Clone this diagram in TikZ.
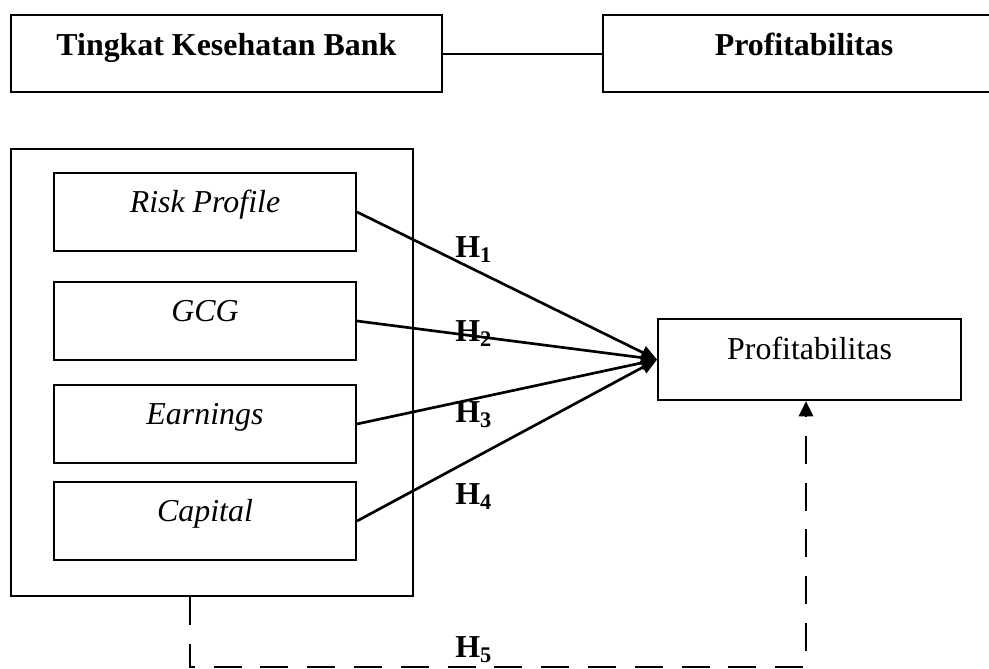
\documentclass[tikz,border=0pt]{standalone}
\usepackage{fontspec}
\setmainfont{Liberation Serif}
\usetikzlibrary{arrows.meta}

\begin{document}
\begin{tikzpicture}[
  font=\fontsize{22.7}{27}\selectfont,
  boxbase/.style={rectangle, draw=black, line width=1.5pt, fill=white,
    inner sep=0pt, text height=1.0cm, text depth=0.95cm, align=center},
  topbox/.style={boxbase, minimum width=10.78cm, text depth=0.925cm,
    font=\fontsize{22.7}{27}\selectfont\bfseries},
  varbox/.style={boxbase, minimum width=7.55cm, font=\fontsize{22.7}{27}\selectfont\itshape},
  outbox/.style={boxbase, minimum width=7.575cm, text depth=1.025cm},
  frame/.style={rectangle, draw=black, line width=1.5pt, fill=white,
    minimum width=10.05cm, minimum height=11.175cm},
  hyp/.style={anchor=base west, inner sep=0pt, font=\fontsize{22.7}{27}\selectfont\bfseries},
  link/.style={line width=1.9pt, -{Triangle[length=0.4cm, width=0.34cm]}},
  dashlink/.style={line width=1.5pt, dash pattern=on 0.7cm off 0.47cm,
    -{Triangle[length=0.38cm, width=0.36cm]}},
]
\useasboundingbox (0,0) rectangle (24.725,-16.725);

% Header row
\node[topbox] (bank) at (5.66, -1.34) {Tingkat Kesehatan Bank};
\node[topbox, minimum width=10.05cm] (profhdr) at (20.1, -1.34) {Profitabilitas};
\draw[line width=1.5pt] (bank) -- (profhdr);

% Dimensions of bank health
\node[frame] (group) at (5.3, -9.31) {};
\node[varbox] (risk) at (5.125, -5.3) {Risk Profile};
\node[varbox] (gcg) at (5.125, -8.025) {GCG};
\node[varbox] (earn) at (5.125, -10.6) {Earnings};
\node[varbox] (capital) at (5.125, -13.025) {Capital};

% Dependent variable
\node[outbox] (profit) at (20.24, -8.99) {Profitabilitas};

% Partial effects
\draw[link] (risk.east) -- (profit.west);
\draw[link] (gcg.east) -- (profit.west);
\draw[link] (earn.east) -- (profit.west);
\draw[link] (capital.east) -- (profit.west);

\node[hyp] (h1) at (11.375, -6.45) {H\textsubscript{1}};
\node[hyp] (h2) at (11.375, -8.55) {H\textsubscript{2}};
\node[hyp] (h3) at (11.375, -10.575) {H\textsubscript{3}};
\node[hyp] (h4) at (11.375, -12.625) {H\textsubscript{4}};

% Simultaneous effect
\coordinate (lowline) at (0, -16.675);
\coordinate (rise) at ([xshift=-0.09cm]profit.south);
\draw[dashlink] ([xshift=-0.55cm]group.south) |- (lowline -| rise) -- (rise);
\node[hyp] (h5) at (11.375, -16.45) {H\textsubscript{5}};

\end{tikzpicture}
\end{document}
